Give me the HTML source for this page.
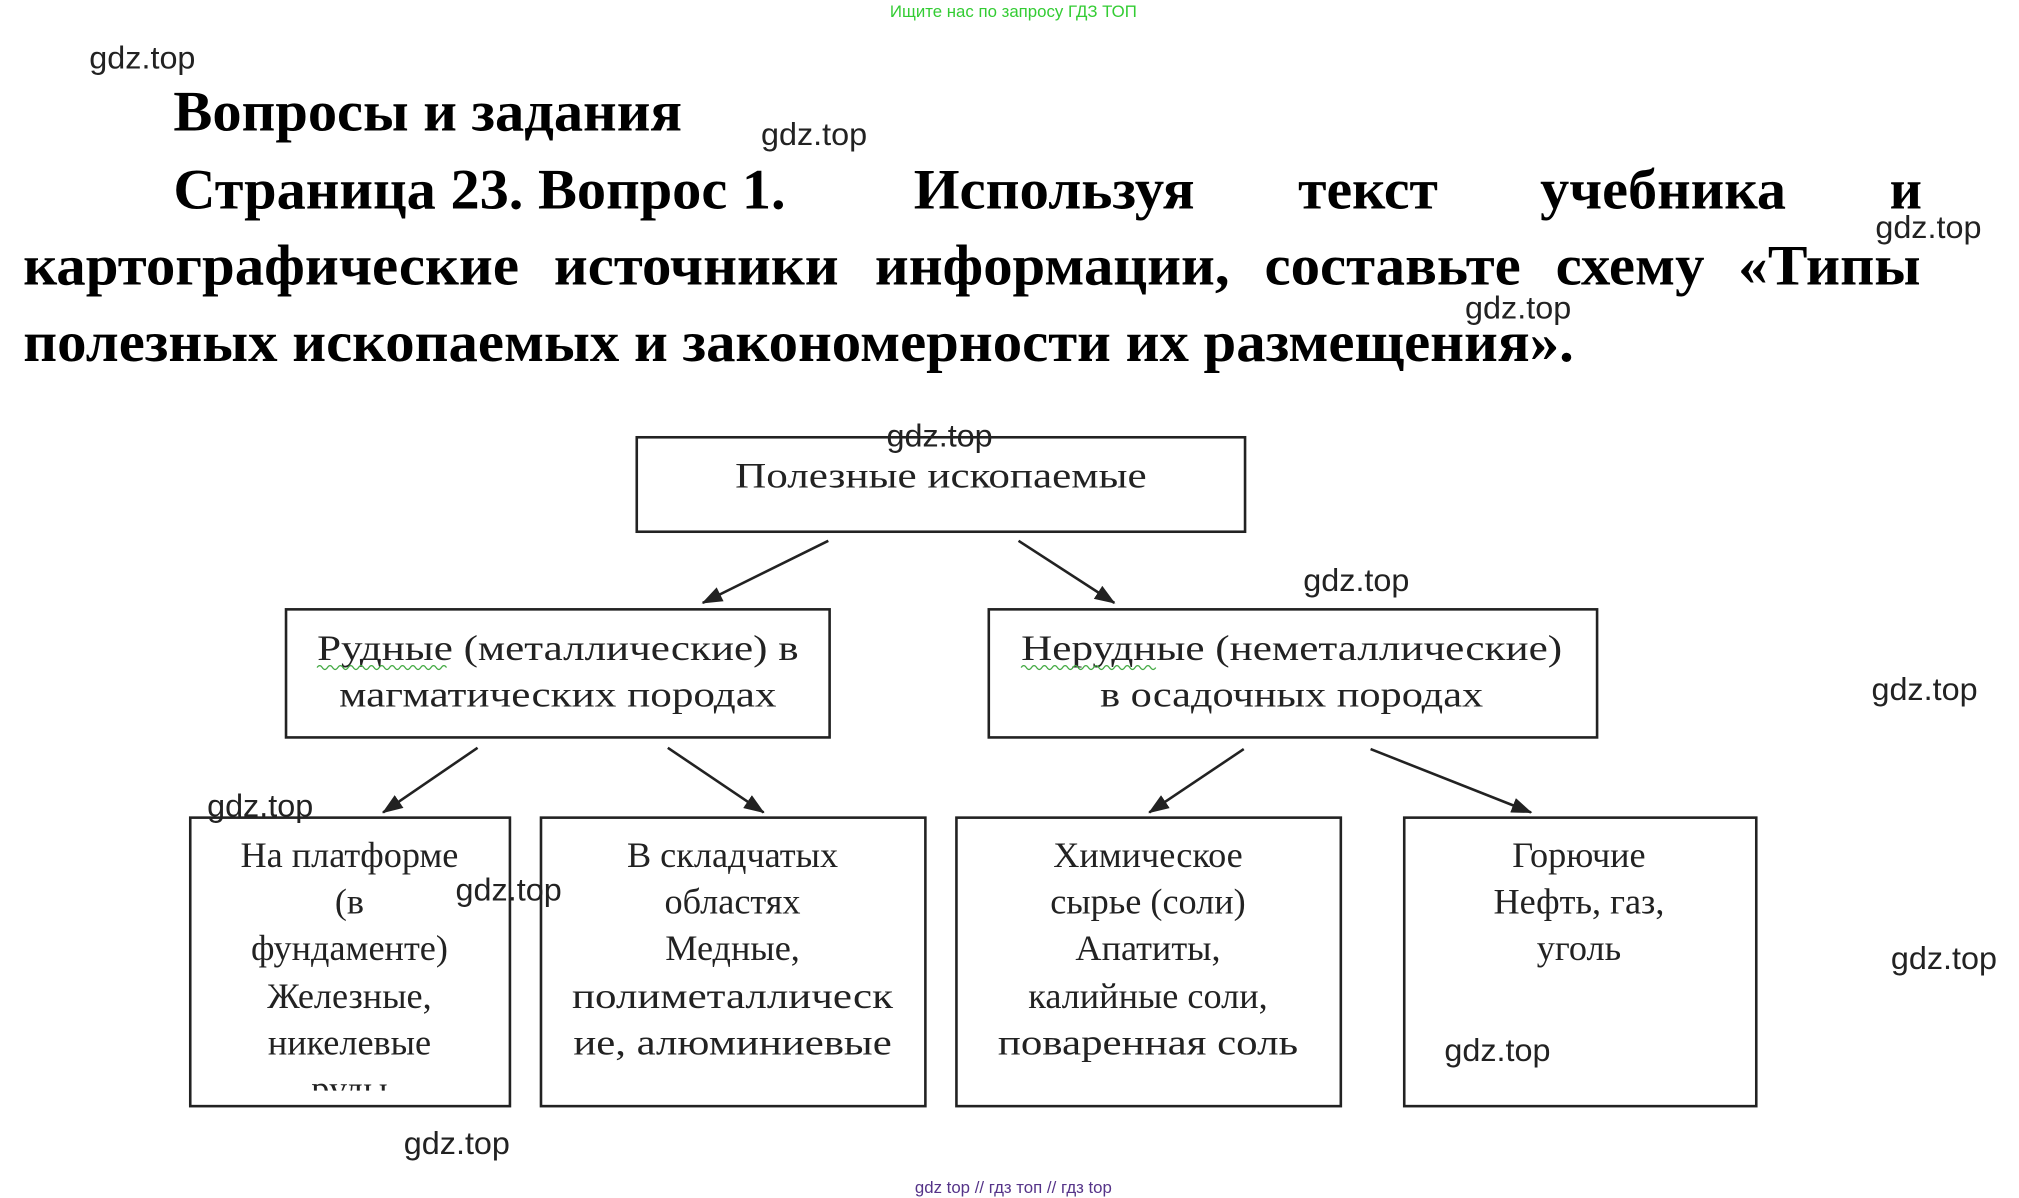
<!DOCTYPE html>
<html><head><meta charset="utf-8"><style>
html,body{margin:0;padding:0;background:#fff;}
svg{display:block}
.h{font-family:"Liberation Serif",serif;font-weight:bold;font-size:44px;fill:#000}
.w{font-family:"Liberation Sans",sans-serif;font-size:24px;fill:#222}
.b{font-family:"Liberation Serif",serif;font-size:28px;fill:#222;text-anchor:middle}
</style></head><body>
<svg width="2019" height="1198" viewBox="0 0 1560 926" preserveAspectRatio="none" xmlns="http://www.w3.org/2000/svg">
<rect width="1560" height="926" fill="#fff"/>
<text x="783" y="13" font-family="Liberation Sans,sans-serif" font-size="13" fill="#33cc33" text-anchor="middle">Ищите нас по запросу ГДЗ ТОП</text>

<text class="h" x="134" y="101" textLength="393" lengthAdjust="spacingAndGlyphs">Вопросы и задания</text>
<text class="h" x="134" y="161" textLength="473" lengthAdjust="spacingAndGlyphs">Страница 23. Вопрос 1.</text>
<text class="h" x="706" y="161" textLength="217" lengthAdjust="spacingAndGlyphs">Используя</text>
<text class="h" x="1003" y="161" textLength="108" lengthAdjust="spacingAndGlyphs">текст</text>
<text class="h" x="1190" y="161" textLength="190" lengthAdjust="spacingAndGlyphs">учебника</text>
<text class="h" x="1460" y="161" textLength="25" lengthAdjust="spacingAndGlyphs">и</text>
<text class="h" x="18" y="220" textLength="383" lengthAdjust="spacingAndGlyphs">картографические</text>
<text class="h" x="428" y="220" textLength="220" lengthAdjust="spacingAndGlyphs">источники</text>
<text class="h" x="676" y="220" textLength="274" lengthAdjust="spacingAndGlyphs">информации,</text>
<text class="h" x="977" y="220" textLength="198" lengthAdjust="spacingAndGlyphs">составьте</text>
<text class="h" x="1202" y="220" textLength="115" lengthAdjust="spacingAndGlyphs">схему</text>
<text class="h" x="1343" y="220" textLength="141" lengthAdjust="spacingAndGlyphs">«Типы</text>
<text class="h" x="18" y="279" textLength="1198" lengthAdjust="spacingAndGlyphs">полезных ископаемых и закономерности их размещения».</text>

<g fill="none" stroke="#222" stroke-width="2">
<rect x="492" y="338" width="470" height="73"/>
<rect x="221" y="471" width="420" height="99"/>
<rect x="764" y="471" width="470" height="99"/>
<rect x="147" y="632" width="247" height="223"/>
<rect x="418" y="632" width="297" height="223"/>
<rect x="739" y="632" width="297" height="223"/>
<rect x="1085" y="632" width="272" height="223"/>
</g>
<defs>
<marker id="m" markerWidth="16" markerHeight="12" refX="15" refY="6" orient="auto" markerUnits="userSpaceOnUse"><path d="M0,0 L16,6 L0,12 z" fill="#222"/></marker></defs>
<g stroke="#222" stroke-width="2" marker-end="url(#m)">
<line x1="640" y1="418" x2="543" y2="466"/>
<line x1="787" y1="418" x2="861" y2="466"/>
<line x1="369" y1="578" x2="296" y2="628"/>
<line x1="516" y1="578" x2="590" y2="628"/>
<line x1="961" y1="579" x2="888" y2="628"/>
<line x1="1059" y1="579" x2="1183" y2="628"/>
</g>

<text class="b" x="727" y="377" textLength="318" lengthAdjust="spacingAndGlyphs">Полезные ископаемые</text>
<text class="b" x="431" y="510" textLength="372" lengthAdjust="spacingAndGlyphs">Рудные (металлические) в</text>
<text class="b" x="431" y="546" textLength="338" lengthAdjust="spacingAndGlyphs">магматических породах</text>
<text class="b" x="998" y="510" textLength="418" lengthAdjust="spacingAndGlyphs">Нерудные (неметаллические)</text>
<text class="b" x="998" y="546" textLength="296" lengthAdjust="spacingAndGlyphs">в осадочных породах</text>
<path d="M245 516 q2 -3 4 0 t4 0 t4 0 t4 0 t4 0 t4 0 t4 0 t4 0 t4 0 t4 0 t4 0 t4 0 t4 0 t4 0 t4 0 t4 0 t4 0 t4 0 t4 0 t4 0 t4 0 t4 0 t4 0 t4 0 t4 0" fill="none" stroke="#4a4" stroke-width="1"/>
<path d="M789 516 q2 -3 4 0 t4 0 t4 0 t4 0 t4 0 t4 0 t4 0 t4 0 t4 0 t4 0 t4 0 t4 0 t4 0 t4 0 t4 0 t4 0 t4 0 t4 0 t4 0 t4 0 t4 0 t4 0 t4 0 t4 0 t4 0 t4 0" fill="none" stroke="#4a4" stroke-width="1"/>

<clipPath id="c1"><rect x="148" y="633" width="245" height="210"/></clipPath>
<g clip-path="url(#c1)">
<text class="b" x="270" y="670">На платформе</text>
<text class="b" x="270" y="706">(в</text>
<text class="b" x="270" y="742">фундаменте)</text>
<text class="b" x="270" y="779">Железные,</text>
<text class="b" x="270" y="815">никелевые</text>
<text class="b" x="270" y="851">руды</text>
</g>
<text class="b" x="566" y="670">В складчатых</text>
<text class="b" x="566" y="706">областях</text>
<text class="b" x="566" y="742">Медные,</text>
<text class="b" x="566" y="779" textLength="248" lengthAdjust="spacingAndGlyphs">полиметаллическ</text>
<text class="b" x="566" y="815" textLength="246" lengthAdjust="spacingAndGlyphs">ие, алюминиевые</text>
<text class="b" x="887" y="670">Химическое</text>
<text class="b" x="887" y="706">сырье (соли)</text>
<text class="b" x="887" y="742">Апатиты,</text>
<text class="b" x="887" y="779">калийные соли,</text>
<text class="b" x="887" y="815" textLength="232" lengthAdjust="spacingAndGlyphs">поваренная соль</text>
<text class="b" x="1220" y="670">Горючие</text>
<text class="b" x="1220" y="706">Нефть, газ,</text>
<text class="b" x="1220" y="742">уголь</text>

<g class="w">
<text x="69" y="53" textLength="82" lengthAdjust="spacingAndGlyphs">gdz.top</text>
<text x="588" y="112" textLength="82" lengthAdjust="spacingAndGlyphs">gdz.top</text>
<text x="1449" y="184" textLength="82" lengthAdjust="spacingAndGlyphs">gdz.top</text>
<text x="1132" y="246" textLength="82" lengthAdjust="spacingAndGlyphs">gdz.top</text>
<text x="685" y="345" textLength="82" lengthAdjust="spacingAndGlyphs">gdz.top</text>
<text x="1007" y="457" textLength="82" lengthAdjust="spacingAndGlyphs">gdz.top</text>
<text x="1446" y="541" textLength="82" lengthAdjust="spacingAndGlyphs">gdz.top</text>
<text x="160" y="631" textLength="82" lengthAdjust="spacingAndGlyphs">gdz.top</text>
<text x="352" y="696" textLength="82" lengthAdjust="spacingAndGlyphs">gdz.top</text>
<text x="1461" y="749" textLength="82" lengthAdjust="spacingAndGlyphs">gdz.top</text>
<text x="1116" y="820" textLength="82" lengthAdjust="spacingAndGlyphs">gdz.top</text>
<text x="312" y="892" textLength="82" lengthAdjust="spacingAndGlyphs">gdz.top</text>
</g>
<text x="783" y="922" font-family="Liberation Sans,sans-serif" font-size="13" fill="#553388" text-anchor="middle">gdz top  //  гдз топ  //  гдз top</text>
</svg>
</body></html>
